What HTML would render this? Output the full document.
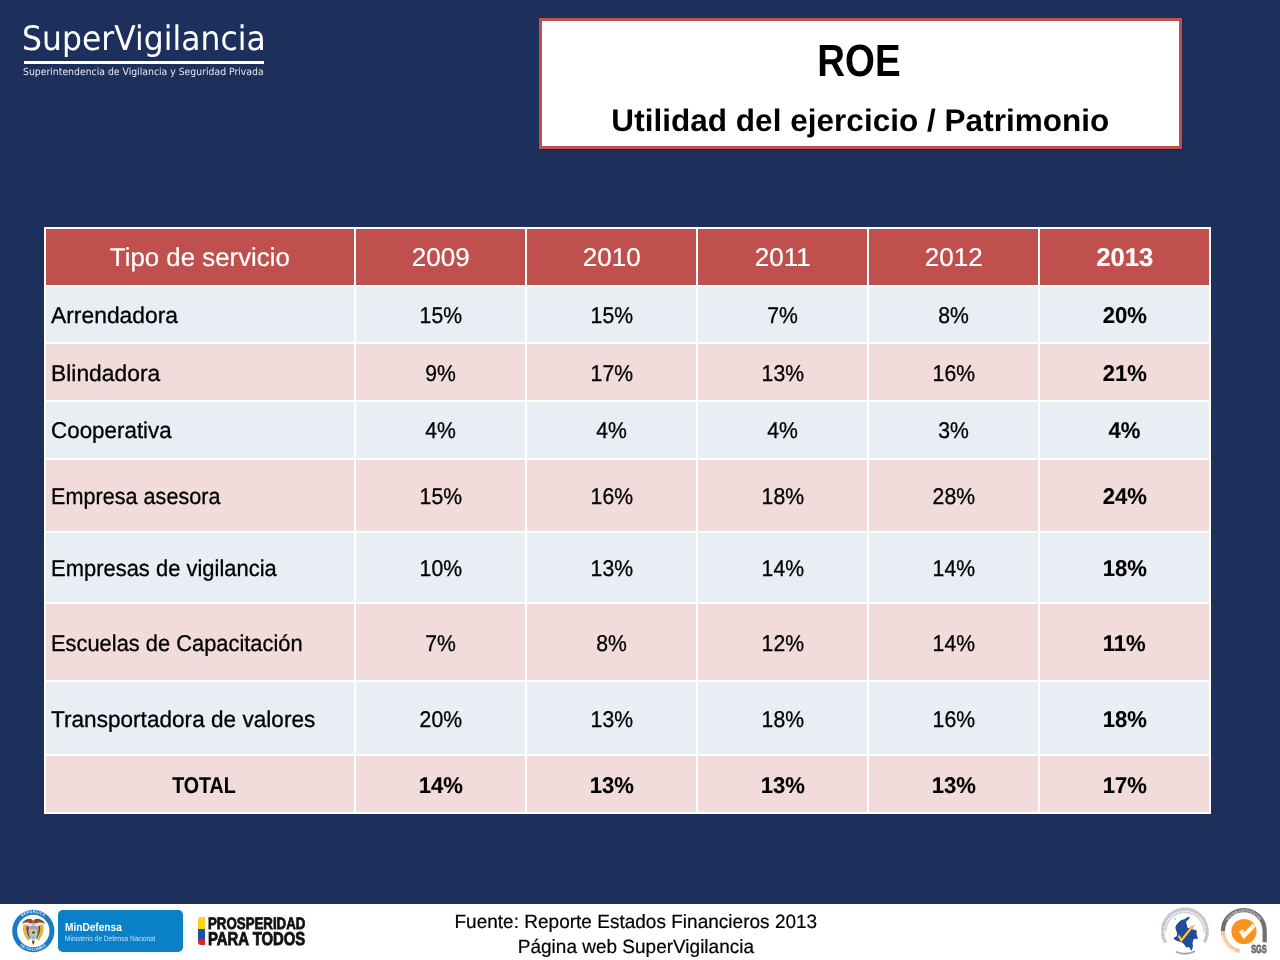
<!DOCTYPE html>
<html lang="es">
<head>
<meta charset="utf-8">
<title>ROE - Utilidad del ejercicio / Patrimonio</title>
<style>
html,body{margin:0;padding:0;}
body{width:1280px;height:960px;position:relative;overflow:hidden;background:#1D2F5B;
  font-family:"Liberation Sans",sans-serif;color:#000;}
.abs{position:absolute;white-space:nowrap;line-height:1;}
.sx{display:inline-block;transform-origin:0 50%;white-space:nowrap;transform:translateY(var(--dy,0px)) scaleX(var(--sx,1)) skewX(.1deg);}
.cx{display:inline-block;transform-origin:50% 50%;white-space:nowrap;transform:translateY(var(--dy,0px)) scaleX(var(--sx,1)) skewX(.1deg);}

/* top-left logo */
#lg1{left:21.7px;top:22px;font-family:"DejaVu Sans",sans-serif;font-size:33.8px;color:#fff;--sx:.931;}
#lgline{left:23.5px;top:61px;width:240.5px;height:3px;background:#fff;}
#lg2{left:23px;top:66.6px;font-family:"DejaVu Sans",sans-serif;font-size:9.9px;color:#E3E6EC;--sx:.942;}

/* title box */
#tbox{left:538.5px;top:17.5px;width:643.5px;height:131.5px;box-sizing:border-box;border:3.5px solid #C0504D;background:#fff;
  box-shadow:0 1px 1px rgba(40,20,60,.5);}
#t1{left:0;width:100%;top:17.6px;text-align:center;font-weight:bold;font-size:45.2px;}
#t2{left:0;width:100%;top:84.9px;text-align:center;font-weight:bold;font-size:31.1px;}

/* table */
#grid{left:44px;top:227px;display:grid;background:#fff;padding:2px;gap:2px;
  grid-template-columns:308px 169px 169px 169px 169px 169px;
  grid-template-rows:55.5px 55.5px 56px 56px 71px 68.5px 76px 72.5px 56px;}
#grid>div{display:flex;align-items:center;justify-content:center;font-size:22.8px;white-space:nowrap;line-height:1;--sx:.93;}
#grid>div.h{background:#C0504D;color:#fff;font-size:25.8px;--sx:1.01;--dy:.6px;}
#grid>div.a{background:#E9EDF4;}
#grid>div.a,#grid>div.b{-webkit-text-stroke:.3px #000;}
#grid>div.h{-webkit-text-stroke:.2px #fff;}
#grid>div.k{-webkit-text-stroke:.12px currentColor;}
#grid>div.b{background:#F2DCDB;}
#grid>div.l{justify-content:flex-start;padding-left:4.8px;}
#grid>div.k{font-weight:bold;--sx:.97;}
#grid>div.h.k{--sx:.995;}
.r1{--dy:1.05px}.r2{--dy:.7px}.r3{--dy:-.3px}.r4{--dy:.75px}.r5{--dy:.6px}.r6{--dy:1.6px}.r7{--dy:2.2px}.r8{--dy:1.05px}

/* footer */
#foot{left:0;top:903.5px;width:1280px;height:56.5px;background:#fff;}
#f1,#f2{-webkit-text-stroke:.2px #000;}
#f1{left:436px;width:400px;top:912.2px;text-align:center;font-size:19.3px;}
#f2{left:436px;width:400px;top:937.1px;text-align:center;font-size:19.3px;}

/* footer logos */
#seal{left:4px;top:902px;width:60px;height:58px;}
#mdbox{left:58.2px;top:909.9px;width:124.8px;height:42.1px;border-radius:4.8px;background:#0A80C9;}
#md1{left:7.1px;top:12px;font-weight:bold;font-size:11.8px;color:#fff;--sx:.858;}
#md2{left:7.2px;top:25.5px;font-size:7.7px;color:#BFE0F4;--sx:.85;}
#flag{left:198.4px;top:916.6px;width:6.7px;height:28.7px;border-radius:3px 0 0 3px;
  background:linear-gradient(#FCD116 0,#FCD116 43.5%,#1D4FA3 43.5%,#1D4FA3 77.7%,#D8232A 77.7%,#D8232A 100%);}
#pp1{left:208px;top:915.6px;font-weight:bold;font-size:16.6px;color:#111;--sx:.80;-webkit-text-stroke:.8px #111;}
#pp2{left:208px;top:929.6px;font-weight:bold;font-size:18.6px;color:#111;--sx:.80;-webkit-text-stroke:.85px #111;}
#cert{left:1154px;top:903px;width:60px;height:57px;}
#sgs{left:1214px;top:903px;width:60px;height:57px;}
</style>
</head>
<body>

<div class="abs" id="lg1"><span class="sx" id="lg1s">SuperVigilancia</span></div>
<div class="abs" id="lgline"></div>
<div class="abs" id="lg2"><span class="sx" id="lg2s">Superintendencia de Vigilancia y Seguridad Privada</span></div>

<div class="abs" id="tbox">
  <div class="abs" id="t1"><span class="cx" id="t1s" style="--sx:.853;margin-left:-2.4px">ROE</span></div>
  <div class="abs" id="t2"><span class="cx" id="t2s" style="--sx:1.015">Utilidad del ejercicio / Patrimonio</span></div>
</div>

<div class="abs" id="grid">
  <div class="h"><span class="cx" style="--sx:1.002">Tipo de servicio</span></div><div class="h"><span class="cx">2009</span></div><div class="h"><span class="cx">2010</span></div><div class="h"><span class="cx">2011</span></div><div class="h"><span class="cx">2012</span></div><div class="h k"><span class="cx">2013</span></div>

  <div class="a l r1"><span class="sx" style="--sx:1.0026">Arrendadora</span></div><div class="a r1"><span class="cx">15%</span></div><div class="a r1"><span class="cx">15%</span></div><div class="a r1"><span class="cx">7%</span></div><div class="a r1"><span class="cx">8%</span></div><div class="a k r1"><span class="cx">20%</span></div>

  <div class="b l r2"><span class="sx" style="--sx:1.0023">Blindadora</span></div><div class="b r2"><span class="cx">9%</span></div><div class="b r2"><span class="cx">17%</span></div><div class="b r2"><span class="cx">13%</span></div><div class="b r2"><span class="cx">16%</span></div><div class="b k r2"><span class="cx">21%</span></div>

  <div class="a l r3"><span class="sx" style="--sx:0.982">Cooperativa</span></div><div class="a r3"><span class="cx">4%</span></div><div class="a r3"><span class="cx">4%</span></div><div class="a r3"><span class="cx">4%</span></div><div class="a r3"><span class="cx">3%</span></div><div class="a k r3"><span class="cx">4%</span></div>

  <div class="b l r4"><span class="sx" style="--sx:0.9486">Empresa asesora</span></div><div class="b r4"><span class="cx">15%</span></div><div class="b r4"><span class="cx">16%</span></div><div class="b r4"><span class="cx">18%</span></div><div class="b r4"><span class="cx">28%</span></div><div class="b k r4"><span class="cx">24%</span></div>

  <div class="a l r5"><span class="sx" style="--sx:0.963">Empresas de vigilancia</span></div><div class="a r5"><span class="cx">10%</span></div><div class="a r5"><span class="cx">13%</span></div><div class="a r5"><span class="cx">14%</span></div><div class="a r5"><span class="cx">14%</span></div><div class="a k r5"><span class="cx">18%</span></div>

  <div class="b l r6"><span class="sx" style="--sx:0.959">Escuelas de Capacitación</span></div><div class="b r6"><span class="cx">7%</span></div><div class="b r6"><span class="cx">8%</span></div><div class="b r6"><span class="cx">12%</span></div><div class="b r6"><span class="cx">14%</span></div><div class="b k r6"><span class="cx">11%</span></div>

  <div class="a l r7"><span class="sx" style="--sx:0.9915">Transportadora de valores</span></div><div class="a r7"><span class="cx">20%</span></div><div class="a r7"><span class="cx">13%</span></div><div class="a r7"><span class="cx">18%</span></div><div class="a r7"><span class="cx">16%</span></div><div class="a k r7"><span class="cx">18%</span></div>

  <div class="b k r8"><span class="cx" style="--sx:0.861;margin-left:7px">TOTAL</span></div><div class="b k r8"><span class="cx">14%</span></div><div class="b k r8"><span class="cx">13%</span></div><div class="b k r8"><span class="cx">13%</span></div><div class="b k r8"><span class="cx">13%</span></div><div class="b k r8"><span class="cx">17%</span></div>
</div>

<div class="abs" id="foot"></div>
<div class="abs" id="f1"><span class="cx" id="f1s" style="--sx:.9867">Fuente: Reporte Estados Financieros 2013</span></div>
<div class="abs" id="f2"><span class="cx" id="f2s" style="--sx:.985">Página web SuperVigilancia</span></div>


<svg class="abs" id="seal" viewBox="0 0 993 960">
  <defs>
    <path id="arcTop" d="M 185,480 A 300,300 0 0 1 785,480"/>
    <path id="arcBot" d="M 160,480 A 325,325 0 0 0 810,480"/>
  </defs>
  <circle cx="485" cy="480" r="350" fill="#1B7AC6"/>
  <circle cx="485" cy="480" r="268" fill="#fff"/>
  <text font-family="Liberation Sans, sans-serif" font-weight="bold" font-size="62" fill="#E8F3FB" text-anchor="middle" letter-spacing="4"><textPath href="#arcTop" startOffset="50%">REPÚBLICA</textPath></text>
  <text font-family="Liberation Sans, sans-serif" font-weight="bold" font-size="62" fill="#E8F3FB" text-anchor="middle" letter-spacing="4"><textPath href="#arcBot" startOffset="50%">DE COLOMBIA</textPath></text>
  <path d="M298,358 C335,285 425,255 470,292 L485,335 L500,292 C545,255 640,285 682,358 C620,332 560,335 522,362 L485,348 L448,362 C410,335 350,332 298,358 Z" fill="#8A4B2C"/>
  <path d="M300,362 L670,362 L655,392 L315,392 Z" fill="#F2D8CE"/>
  <path d="M322,378 C298,470 330,565 402,642 L432,612 C382,542 360,462 375,385 Z" fill="#E6B821"/>
  <path d="M648,378 C672,470 640,565 568,642 L538,612 C588,542 610,462 595,385 Z" fill="#E6B821"/>
  <path d="M372,392 C360,465 384,540 430,608 L446,594 C406,530 390,462 398,398 Z" fill="#2D4B9A"/>
  <path d="M598,392 C610,465 586,540 540,608 L524,594 C564,530 580,462 572,398 Z" fill="#2D4B9A"/>
  <path d="M398,400 C392,462 408,528 446,592 L458,580 C424,520 412,462 416,404 Z" fill="#C7372F"/>
  <path d="M572,400 C578,462 562,528 524,592 L512,580 C546,520 558,462 554,404 Z" fill="#C7372F"/>
  <path d="M418,398 L552,398 L552,540 C552,596 485,632 485,632 C485,632 418,596 418,540 Z" fill="#B4C3D6"/>
  <path d="M418,398 L552,398 L552,452 L418,452 Z" fill="#8FA4C4"/>
  <path d="M418,452 L552,452 L552,520 L418,520 Z" fill="#D8C66A"/>
  <circle cx="488" cy="505" r="22" fill="#4A4638"/>
  <path d="M440,560 L530,560 L485,625 Z" fill="#9BB7CF"/>
  <path d="M462,640 L508,640 L492,705 L476,705 Z" fill="#5C3B2A"/>
  <path d="M470,300 L500,300 L492,392 L478,392 Z" fill="#A9882F"/>
</svg>

<div class="abs" id="mdbox">
  <div class="abs" id="md1"><span class="sx">MinDefensa</span></div>
  <div class="abs" id="md2"><span class="sx">Ministerio de Defensa Nacional</span></div>
</div>

<div class="abs" id="flag"></div>
<div class="abs" id="pp1"><span class="sx">PROSPERIDAD</span></div>
<div class="abs" id="pp2"><span class="sx">PARA TODOS</span></div>

<svg class="abs" id="cert" viewBox="0 0 1011 960">
  <path d="M195.2,665.5 A375,375 0 1 1 844.8,665.5" fill="none" stroke="#7E7A92" stroke-width="56" stroke-dasharray="22 7" opacity=".55"/>
  <path d="M198,478 A322,322 0 0 1 842,478" fill="none" stroke="#8B879C" stroke-width="30" stroke-dasharray="16 6" opacity=".5"/>
  <path d="M367.5,820.6 A375,375 0 0 0 690.2,812.1" fill="none" stroke="#817C94" stroke-width="30" opacity=".7"/>
  <path d="M590,232 L603,250 L568,292 L547,302 L541,332 L556,372 L561,412 L600,430 L640,441 L700,455 L722,470 L716,520 L726,560 L741,600 L720,611 L690,600 L661,621 L650,680 L656,730 L641,790 L624,802 L610,770 L590,741 L541,750 L510,700 L470,661 L420,650 L370,630 L328,600 L340,580 L380,560 L391,520 L380,480 L360,421 L370,380 L400,340 L440,300 L480,281 L520,270 L560,241 Z" fill="#1F4C9C"/>
  <path d="M412,548 L462,628 L645,398" fill="none" stroke="#C43A3A" stroke-width="50" opacity=".8"/>
  <path d="M640,405 L682,378" fill="none" stroke="#C43A3A" stroke-width="14" opacity=".8"/>
  <path d="M412,548 L462,628 L645,398" fill="none" stroke="#F2D43C" stroke-width="34"/>
  <path d="M340,262 L372,255 L352,290 Z" fill="#8A8F6A"/>
</svg>

<svg class="abs" id="sgs" viewBox="0 0 1011 960">
  <defs>
    <path id="sgsTop" d="M180,470 A326,326 0 0 1 832,470"/>
    <path id="sgsBot" d="M124,470 A382,382 0 0 0 440,850"/>
  </defs>
  <path d="M150,470 A352,352 0 0 1 854,470 L854,660" fill="none" stroke="#707074" stroke-width="72"/>
  <path d="M150,470 A352,352 0 0 0 432,812" fill="none" stroke="#F2C691" stroke-width="66"/>
  <text font-family="Liberation Sans, sans-serif" font-weight="bold" font-size="50" fill="#fff" fill-opacity=".8" text-anchor="middle" letter-spacing="2"><textPath href="#sgsTop" startOffset="50%">SYSTEM CERTIFICATION</textPath></text>
  <text font-family="Liberation Sans, sans-serif" font-weight="bold" font-size="50" fill="#fff" fill-opacity=".8" text-anchor="middle" letter-spacing="2"><textPath href="#sgsBot" startOffset="50%">ISO 9001:2008</textPath></text>
  <circle cx="506" cy="480" r="212" fill="#F7931E"/>
  <path d="M452,462 L508,552 L680,372" fill="none" stroke="#FFF6E8" stroke-width="72"/>
  <text x="757" y="846" text-anchor="middle" font-family="Liberation Sans, sans-serif" font-weight="bold" font-size="185" fill="#6E6E72" textLength="258" lengthAdjust="spacingAndGlyphs" stroke="#6E6E72" stroke-width="14">SGS</text>
</svg>

</body>
</html>
